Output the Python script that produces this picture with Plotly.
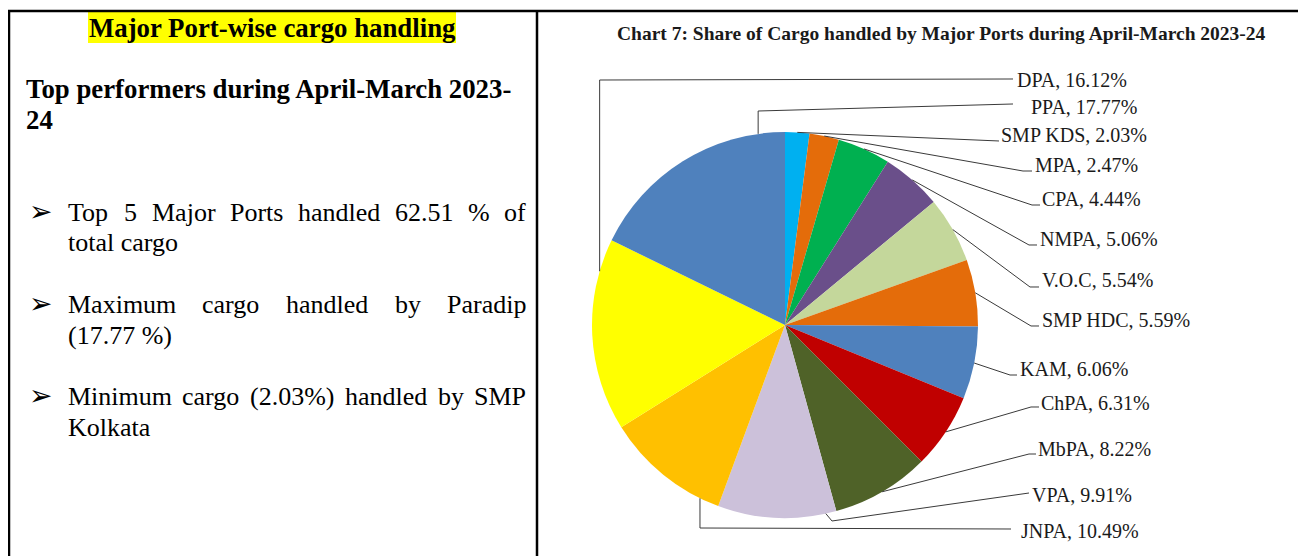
import math
import plotly.graph_objects as go

W, H = 1306, 556          # window size (reference pixels)
OFF = 8                   # page body margin added by the browser
FW, FH = W - OFF, H - OFF  # figure size

# ---------------- data ----------------
ports = ["SMP KDS", "MPA", "CPA", "NMPA", "V.O.C", "SMP HDC", "KAM",
         "ChPA", "MbPA", "VPA", "JNPA", "DPA", "PPA"]
shares = [2.03, 2.47, 4.44, 5.06, 5.54, 5.59, 6.06, 6.31, 8.22, 9.91,
          10.49, 16.12, 17.77]
slice_colors = ["#00B0F0", "#E46C0A", "#00B050", "#6A4F8A", "#C4D79B",
                "#E46C0A", "#4F81BD", "#C00000", "#4F6228", "#CCC1DA",
                "#FFC000", "#FFFF00", "#4F81BD"]

chart_title = "Chart 7: Share of Cargo handled by Major Ports during April-March 2023-24"
panel_heading = "Major Port-wise cargo handling"
panel_sub = ["Top performers during April-March 2023-", "24"]
bullets = [
    ["Top 5 Major Ports handled 62.51 % of", "total cargo"],
    ["Maximum cargo handled by Paradip", "(17.77 %)"],
    ["Minimum cargo (2.03%) handled by SMP", "Kolkata"],
]

# ---------------- helpers (reference pixels -> paper) ----------------
def px(x):
    return (x - OFF) / FW

def py(y):
    return 1 - (y - OFF) / FH

FONT = "Liberation Serif, Times New Roman, serif"

# Times / Liberation Serif advance widths (1/1000 em) for justification
TW = {" ": 250, ".": 250, "%": 833, "(": 333, ")": 333, ",": 250}
TW.update({d: 500 for d in "0123456789"})
TW.update(dict(a=444, b=500, c=444, d=500, e=444, f=333, g=500, h=500,
               i=278, j=278, k=500, l=278, m=778, n=500, o=500, p=500,
               q=500, r=333, s=389, t=278, u=500, v=500, w=722, x=500,
               y=500, z=444))
TW.update(dict(A=722, B=667, C=667, D=722, E=611, F=556, G=722, H=722,
               I=333, J=389, K=722, L=611, M=889, N=722, O=722, P=556,
               Q=722, R=667, S=556, T=611, U=722, V=722, W=944, X=722,
               Y=722, Z=611))

def text_w(s, size):
    return sum(TW.get(c, 500) for c in s) / 1000 * size

# pie geometry (reference pixels)
pie_x0, pie_x1 = 592, 978
pie_y0, pie_y1 = 132, 518
cx, cy = (pie_x0 + pie_x1) / 2, (pie_y0 + pie_y1) / 2
rad = (pie_x1 - pie_x0) / 2

fig = go.Figure(go.Pie(
    labels=ports, values=shares, sort=False, direction="clockwise",
    rotation=0, textinfo="none", hoverinfo="label+value",
    marker=dict(colors=slice_colors, line=dict(width=0)),
    domain=dict(x=[px(pie_x0), px(pie_x1)], y=[py(pie_y1), py(pie_y0)]),
    showlegend=False,
))

# label placement (text left x, text middle y) in reference pixels
label_pos = {
    "DPA": (1015, 80), "PPA": (1029, 107), "SMP KDS": (999, 135),
    "MPA": (1033, 165), "CPA": (1040, 199), "NMPA": (1038, 239),
    "V.O.C": (1040, 280), "SMP HDC": (1040, 320), "KAM": (1018, 369),
    "ChPA": (1039, 403), "MbPA": (1036, 449), "VPA": (1030, 495),
    "JNPA": (1019, 531),
}
leader_tail = {
    "SMP KDS": [(999, 141)],
    "MPA": [(1023, 171), (1032, 171)],
    "CPA": [(1032, 205), (1040, 205)],
    "NMPA": [(1029, 245), (1037, 245)],
    "V.O.C": [(1030, 287), (1039, 287)],
    "SMP HDC": [(1031, 326), (1039, 326)],
    "KAM": [(1010, 375), (1017, 375)],
    "ChPA": [(1031, 407), (1039, 407)],
    "MbPA": [(1029, 454), (1036, 454)],
    "VPA": [(832, 521), (1029, 493)],
    "JNPA": [(1011, 529)],
    "DPA": [(1013, 79)],
    "PPA": [(1013, 104)],
}
leader_frac = {"DPA": 0.83, "PPA": 0.875, "JNPA": 0.156, "VPA": 0.09}
elbow_y = {"DPA": 80, "PPA": 111, "JNPA": 528}

shapes = []
annotations = []

total = sum(shares)
cum = 0.0
for name, v in zip(ports, shares):
    frac = leader_frac.get(name, 0.5)
    ang = math.radians(360.0 * (cum + frac * v) / total)
    cum += v
    sx = cx + rad * math.sin(ang)
    sy = cy - rad * math.cos(ang)
    pts = [(sx, sy)]
    if name in elbow_y:
        pts.append((sx, elbow_y[name]))
    pts += leader_tail[name]
    path = "M " + " L ".join(f"{px(x):.5f},{py(y):.5f}" for x, y in pts)
    shapes.append(dict(type="path", path=path, xref="paper", yref="paper",
                       line=dict(color="#3a3a3a", width=1)))
    tx, ty = label_pos[name]
    annotations.append(dict(
        x=px(tx), y=py(ty), xref="paper", yref="paper", showarrow=False,
        xanchor="left", yanchor="middle", text=f"{name}, {v:.2f}%",
        font=dict(family=FONT, size=20, color="#1a1a1a")))

# chart title
annotations.append(dict(
    x=px(942), y=py(33), xref="paper", yref="paper", showarrow=False,
    xanchor="center", yanchor="middle", text=f"<b>{chart_title}</b>",
    font=dict(family=FONT, size=19.5, color="#1a1a1a")))

# ---------------- left text panel ----------------
shapes.append(dict(type="rect", xref="paper", yref="paper", layer="below",
                   x0=px(88), x1=px(456), y0=py(43), y1=py(12),
                   fillcolor="#FFFF00", line=dict(width=0)))
annotations.append(dict(
    x=px(272), y=py(28), xref="paper", yref="paper", showarrow=False,
    xanchor="center", yanchor="middle", text=f"<b>{panel_heading}</b>",
    font=dict(family=FONT, size=26.8, color="black")))
for txt, yy in zip(panel_sub, [89, 120]):
    annotations.append(dict(
        x=px(24), y=py(yy), xref="paper", yref="paper", showarrow=False,
        xanchor="left", yanchor="middle", text=f"<b>{txt}</b>",
        font=dict(family=FONT, size=26.8, color="black")))

BODY = 26
left_x, right_x = 66, 524
bullet_y = [(212, 242), (304, 335), (396, 427)]
for (first, second), (y1, y2) in zip(bullets, bullet_y):
    # justified first line
    words = first.split(" ")
    ww = [text_w(w_, BODY) for w_ in words]
    gap = (right_x - left_x - sum(ww)) / (len(words) - 1)
    xx = left_x
    for w_, wpx in zip(words, ww):
        annotations.append(dict(
            x=px(xx), y=py(y1), xref="paper", yref="paper", showarrow=False,
            xanchor="left", yanchor="middle", text=w_,
            font=dict(family=FONT, size=BODY, color="black")))
        xx += wpx + gap
    annotations.append(dict(
        x=px(left_x), y=py(y2), xref="paper", yref="paper", showarrow=False,
        xanchor="left", yanchor="middle", text=second,
        font=dict(family=FONT, size=BODY, color="black")))
    annotations.append(dict(
        x=px(27), y=py(y1 - 1), xref="paper", yref="paper", showarrow=False,
        xanchor="left", yanchor="middle", text="\u27a2",
        font=dict(family="DejaVu Sans", size=28, color="black")))

# panel borders
for x0, y0, x1, y1 in [(8, 11, 1306, 11), (9, 10, 9, 556), (537, 10, 537, 556)]:
    shapes.append(dict(type="line", xref="paper", yref="paper",
                       x0=px(x0), y0=py(y0), x1=px(x1), y1=py(y1),
                       line=dict(color="black", width=2.5)))

fig.update_layout(
    width=FW, height=FH, margin=dict(l=0, r=0, t=0, b=0),
    paper_bgcolor="white", plot_bgcolor="white",
    shapes=shapes, annotations=annotations,
)

fig.write_html("out.html")
